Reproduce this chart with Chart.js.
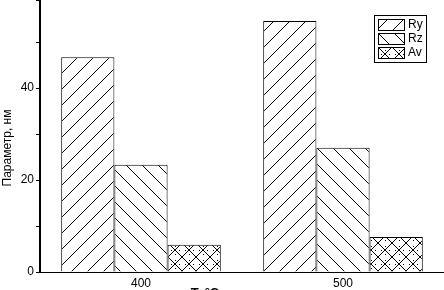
<!DOCTYPE html>
<html>
<head>
<meta charset="utf-8">
<script src="https://cdn.jsdelivr.net/npm/chart.js@4/dist/chart.umd.min.js"></script>
<style>
  html, body { margin: 0; padding: 0; background: #fff; overflow: hidden; }
  #wrap { width: 444px; height: 309px; margin-top: -9px; }
</style>
</head>
<body>
<div id="wrap"><canvas id="chart" width="444" height="309"></canvas></div>
<script>
const CATEGORIES = ['400', '500'];
const RY_VALUES = [46.7, 54.6];
const RZ_VALUES = [23.3, 27.0];
const AV_VALUES = [5.9, 7.6];
const Y_LABELS = [0, 20, 40];

const FONT = "'Liberation Sans', Arial, sans-serif";
const SHIFT = 9; // canvas is pulled up so the axis reaches the top edge

// hatch tiles, drawn once and reused as fill patterns
function makePattern(kind, size) {
  const c = document.createElement('canvas');
  c.width = size;
  c.height = size;
  const g = c.getContext('2d');
  g.fillStyle = '#fff';
  g.fillRect(0, 0, size, size);
  g.strokeStyle = '#000';
  g.lineWidth = 1;
  g.beginPath();
  if (kind === 'fwd' || kind === 'cross') {
    g.moveTo(-1, size + 1);
    g.lineTo(size + 1, -1);
  }
  if (kind === 'back' || kind === 'cross') {
    g.moveTo(-1, -1);
    g.lineTo(size + 1, size + 1);
  }
  g.stroke();
  if (kind === 'cross') {
    const h = size / 2;
    g.fillStyle = '#000';
    g.fillRect(h, 3, 1, 1);
    g.fillRect(3, h, 1, 1);
    g.fillRect(size - 3, h, 1, 1);
    g.fillRect(h, size - 3, 1, 1);
  }
  return g.createPattern(c, 'repeat');
}

const PATTERNS = {
  ry: makePattern('fwd', 16),
  rz: makePattern('back', 16),
  av: makePattern('cross', 14)
};

const axisTitles = {
  id: 'axisTitles',
  afterDraw(chart) {
    const ctx = chart.ctx;
    ctx.save();
    ctx.fillStyle = '#000';
    ctx.textAlign = 'center';
    ctx.textBaseline = 'middle';
    ctx.font = '12px ' + FONT;
    ctx.translate(8, 148 + SHIFT);
    ctx.rotate(-Math.PI / 2);
    ctx.fillText('Параметр, нм', 0, 0);
    ctx.restore();

    ctx.save();
    ctx.fillStyle = '#000';
    ctx.font = 'bold 13px ' + FONT;
    ctx.textAlign = 'center';
    ctx.textBaseline = 'top';
    ctx.fillText('Т, °С', 205, 287 + SHIFT);
    ctx.restore();
  }
};

const patternLegend = {
  id: 'patternLegend',
  afterDraw(chart) {
    const ctx = chart.ctx;
    const box = { x: 374, y: 15 + SHIFT, w: 52, h: 47 };
    ctx.save();
    ctx.fillStyle = '#fff';
    ctx.fillRect(box.x, box.y, box.w, box.h);
    ctx.strokeStyle = '#000';
    ctx.lineWidth = 1;
    ctx.strokeRect(box.x + 0.5, box.y + 0.5, box.w, box.h);
    ctx.font = '12px ' + FONT;
    ctx.textBaseline = 'middle';
    chart.data.datasets.forEach((ds, i) => {
      const rowY = box.y + 4 + i * 14;
      ctx.fillStyle = ds.backgroundColor;
      ctx.fillRect(box.x + 4, rowY, 26, 11);
      ctx.strokeRect(box.x + 4.5, rowY + 0.5, 26, 11);
      ctx.fillStyle = '#000';
      ctx.fillText(ds.label, box.x + 34, rowY + 6);
    });
    ctx.restore();
  }
};

function barSet(label, data, pattern) {
  return {
    label,
    data,
    backgroundColor: pattern,
    borderColor: '#000',
    borderWidth: { top: 1, left: 1, right: 1, bottom: 0 },
    borderSkipped: false
  };
}

new Chart(document.getElementById('chart').getContext('2d'), {
  type: 'bar',
  data: {
    labels: CATEGORIES,
    datasets: [
      barSet('Ry', RY_VALUES, PATTERNS.ry),
      barSet('Rz', RZ_VALUES, PATTERNS.rz),
      barSet('Av', AV_VALUES, PATTERNS.av)
    ]
  },
  options: {
    responsive: false,
    animation: false,
    layout: { padding: 0 },
    datasets: {
      bar: { barPercentage: 1, categoryPercentage: 0.79 }
    },
    plugins: {
      legend: { display: false },
      tooltip: { enabled: false }
    },
    scales: {
      x: {
        grid: { display: false, drawTicks: false },
        border: { display: true, color: '#000', width: 1 },
        ticks: { color: '#000', font: { family: FONT, size: 12 }, padding: 4 },
        afterFit: s => { s.height = 28; }
      },
      y: {
        min: 0,
        max: 59.1,
        grid: {
          drawOnChartArea: false,
          drawTicks: true,
          tickLength: 4,
          color: '#000',
          tickColor: '#000'
        },
        border: { display: true, color: '#000', width: 2 },
        ticks: {
          stepSize: 10,
          color: '#000',
          font: { family: FONT, size: 12 },
          padding: 2,
          callback: v => Y_LABELS.includes(v) ? String(v) : ''
        },
        afterFit: s => { s.width = 40; }
      }
    }
  },
  plugins: [axisTitles, patternLegend]
});
</script>
</body>
</html>
